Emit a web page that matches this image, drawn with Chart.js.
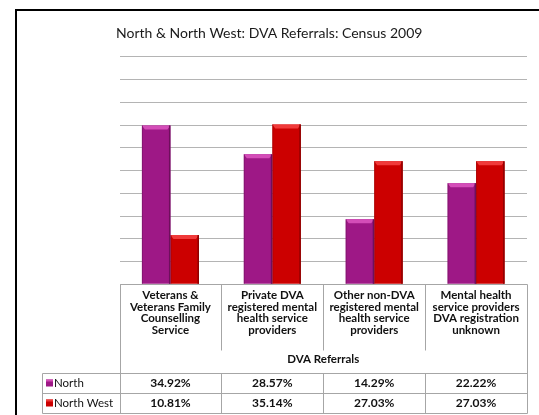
<!DOCTYPE html>
<html><head><meta charset="utf-8">
<script src="https://cdn.jsdelivr.net/npm/chart.js@4.4.0/dist/chart.umd.min.js"></script>
<style>
html,body{margin:0;padding:0;background:#fff;}
#wrap{position:relative;width:539px;height:415px;overflow:hidden;}
#frame{position:absolute;left:15px;top:9px;width:600px;height:500px;border-left:2px solid #000;border-top:2px solid #000;}
canvas{position:absolute;left:0;top:0;}
</style></head><body>
<div id="wrap"><div id="frame"></div><canvas id="c" width="539" height="415"></canvas></div>
<script>
const chartTitle = 'North & North West: DVA Referrals: Census 2009';
const categories = [
  ['Veterans &', 'Veterans Family', 'Counselling', 'Service'],
  ['Private DVA', 'registered mental', 'health service', 'providers'],
  ['Other non-DVA', 'registered mental', 'health service', 'providers'],
  ['Mental health', 'service providers', 'DVA registration', 'unknown']
];
const axisTitle = 'DVA Referrals';
const seriesNames = ['North', 'North West'];
const north = [34.92, 28.57, 14.29, 22.22];
const northWest = [10.81, 35.14, 27.03, 27.03];
const yMax = 50;
const yStep = 5;

const colors = ['#9E1886', '#CC0000'];
const highlights = ['#D44DB8', '#F03A3A'];
const shades = ['#6E0F5C', '#8E0000'];
const FONT = 'Lato, "Open Sans", sans-serif';

const bevelPlugin = {
  id: 'bevel',
  afterDatasetsDraw(chart) {
    const ctx = chart.ctx;
    chart.data.datasets.forEach((ds, di) => {
      const meta = chart.getDatasetMeta(di);
      meta.data.forEach(bar => {
        const p = bar.getProps(['x', 'y', 'width', 'base'], true);
        const l = p.x - p.width / 2, r = p.x + p.width / 2;
        ctx.save();
        ctx.fillStyle = highlights[di];
        ctx.beginPath();
        ctx.moveTo(l, p.y); ctx.lineTo(r, p.y);
        ctx.lineTo(r - 3, p.y + 4); ctx.lineTo(l + 3, p.y + 4);
        ctx.closePath(); ctx.fill();
        ctx.fillStyle = shades[di];
        ctx.fillRect(r - 1.5, p.y, 1.5, p.base - p.y);
        ctx.globalAlpha = 0.5;
        ctx.fillRect(l, p.y, 1, p.base - p.y);
        ctx.restore();
      });
    });
  }
};

const tablePlugin = {
  id: 'dataTable',
  afterDraw(chart) {
    const ctx = chart.ctx;
    const x = chart.scales.x;
    const ca = chart.chartArea;
    const n = categories.length;
    const w = (x.right - x.left) / n;
    const L = Math.round(x.left) + 0.5, R = Math.round(x.right) + 0.5;
    const top = Math.round(ca.bottom) + 0.5;
    const labelBottom = top + 66;
    const rowTop = chart.height - 41.5;
    const rowH = 20;
    const rowBot = rowTop + 2 * rowH;
    const legLeft = 42.5;
    ctx.save();
    ctx.strokeStyle = '#A6A6A6';
    ctx.lineWidth = 1;
    const line = (x1, y1, x2, y2) => { ctx.beginPath(); ctx.moveTo(x1, y1); ctx.lineTo(x2, y2); ctx.stroke(); };
    line(L, top, R, top);
    line(L, top, L, rowBot);
    line(R, top, R, rowBot);
    for (let i = 1; i < n; i++) {
      const bx = Math.round(x.left + i * w) + 0.5;
      line(bx, top, bx, labelBottom);
      line(bx, rowTop, bx, rowBot);
    }
    for (let r = 0; r <= 2; r++) line(legLeft, rowTop + r * rowH, R, rowTop + r * rowH);
    line(legLeft, rowTop, legLeft, rowBot);

    const rows = [north, northWest];
    ctx.textBaseline = 'middle';
    rows.forEach((vals, ri) => {
      const cy = rowTop + ri * rowH + rowH / 2;
      ctx.fillStyle = colors[ri];
      ctx.fillRect(46, cy - 4, 7, 7);
      ctx.fillStyle = highlights[ri];
      ctx.fillRect(46, cy - 4, 7, 2);
      ctx.fillStyle = '#111';
      ctx.font = '11.5px ' + FONT;
      ctx.textAlign = 'left';
      ctx.fillText(seriesNames[ri], 54, cy);
      ctx.font = 'bold 12px ' + FONT;
      ctx.textAlign = 'center';
      vals.forEach((v, i) => {
        ctx.fillText(v.toFixed(2) + '%', x.getPixelForValue(i), cy);
      });
    });
    ctx.restore();
  }
};

new Chart(document.getElementById('c'), {
  type: 'bar',
  data: {
    labels: categories,
    datasets: [
      { label: seriesNames[0], data: north, backgroundColor: colors[0] },
      { label: seriesNames[1], data: northWest, backgroundColor: colors[1] }
    ]
  },
  options: {
    responsive: false,
    animation: false,
    layout: { padding: { left: 116, right: 12, top: 20, bottom: 41 } },
    datasets: { bar: { categoryPercentage: 0.56, barPercentage: 1.0 } },
    plugins: {
      legend: { display: false },
      tooltip: { enabled: false },
      title: {
        display: true, text: chartTitle, align: 'start', color: '#1a1a1a',
        font: { family: FONT, size: 14, weight: 'normal' },
        padding: { top: 5, bottom: 15 }
      }
    },
    scales: {
      x: {
        grid: { display: false, drawTicks: false },
        border: { display: false },
        ticks: {
          color: '#111', maxRotation: 0, autoSkip: false, padding: 5,
          font: { family: FONT, size: 11.5, weight: 'bold', lineHeight: 1.02 }
        },
        title: {
          display: true, text: axisTitle, color: '#111',
          font: { family: FONT, size: 11.5, weight: 'bold', lineHeight: 1.2 },
          padding: { top: 11, bottom: 8 }
        }
      },
      y: {
        min: 0, max: yMax,
        afterFit: s => { s.width = 3.5; },
        ticks: { display: false, stepSize: yStep },
        grid: { color: '#B4B4B4', lineWidth: 1, drawTicks: false },
        border: { display: false }
      }
    }
  },
  plugins: [bevelPlugin, tablePlugin]
});
</script>
</body></html>
